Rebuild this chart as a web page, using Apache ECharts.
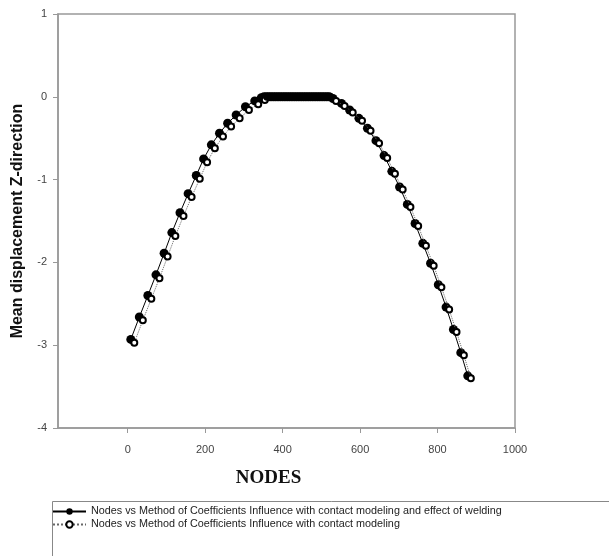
<!DOCTYPE html>
<html>
<head>
<meta charset="utf-8">
<script src="https://cdn.jsdelivr.net/npm/echarts@6/dist/echarts.min.js"></script>
<style>html,body{margin:0;padding:0;background:#fff}#c{width:609px;height:556px}</style>
</head>
<body>
<div id="c"></div>
<script>
// Series 1: with contact modeling and effect of welding (filled circles)
const nodesA = [8, 30, 52, 73, 94, 114, 135, 156, 177, 196, 216, 237, 258, 280, 304, 328, 345,
  352, 358, 364, 370, 376, 382, 388, 394, 400, 406, 412, 418, 424, 430, 436, 442, 448, 454, 460, 466, 472, 478, 484, 490, 496, 502, 508, 514, 520,
  530, 552, 573, 597, 619, 641, 662, 682, 702, 722, 742, 762, 782, 802, 822, 841, 860, 878];
const dispA = [-2.93, -2.66, -2.40, -2.15, -1.89, -1.64, -1.40, -1.17, -0.95, -0.75, -0.58, -0.44, -0.32, -0.22, -0.12, -0.05, -0.01,
  0, 0, 0, 0, 0, 0, 0, 0, 0, 0, 0, 0, 0, 0, 0, 0, 0, 0, 0, 0, 0, 0, 0, 0, 0, 0, 0, 0, 0,
  -0.02, -0.08, -0.16, -0.26, -0.38, -0.53, -0.71, -0.90, -1.09, -1.30, -1.53, -1.77, -2.01, -2.27, -2.54, -2.81, -3.09, -3.37];
// Series 2: with contact modeling (open circles)
const nodesB = [17, 39, 61, 82, 103, 123, 144, 165, 186, 205, 225, 246, 267, 289, 313, 337, 354,
  360, 366, 372, 378, 384, 390, 396, 402, 408, 414, 420, 426, 432, 438, 444, 450, 456, 462, 468, 474, 480, 486, 492, 498, 504, 510, 516, 522,
  538, 560, 581, 605, 627, 649, 670, 690, 710, 730, 750, 770, 790, 810, 830, 849, 868, 886];
const dispB = [-2.97, -2.70, -2.44, -2.19, -1.93, -1.68, -1.44, -1.21, -0.99, -0.79, -0.62, -0.48, -0.36, -0.26, -0.16, -0.09, -0.04,
  0, 0, 0, 0, 0, 0, 0, 0, 0, 0, 0, 0, 0, 0, 0, 0, 0, 0, 0, 0, 0, 0, 0, 0, 0, 0, 0, 0,
  -0.05, -0.11, -0.19, -0.29, -0.41, -0.56, -0.74, -0.93, -1.12, -1.33, -1.56, -1.80, -2.04, -2.30, -2.57, -2.84, -3.12, -3.40];
const xTicks = [0, 200, 400, 600, 800, 1000];
const nameA = 'Nodes vs Method of Coefficients Influence with contact modeling and effect of welding';
const nameB = 'Nodes vs Method of Coefficients Influence with contact modeling';

const chart = echarts.init(document.getElementById('c'), null, {renderer: 'canvas'});
const dataA = nodesA.map((x, i) => [x, dispA[i]]);
const dataB = nodesB.map((x, i) => {
  const p = {value: [x, dispB[i]]};
  if (dispB[i] === 0) p.itemStyle = {color: '#000'};
  return p;
});
const labelFont = {fontFamily: 'Liberation Sans, Arial, sans-serif', fontSize: 11, color: '#444'};
chart.setOption({
  animation: false,
  backgroundColor: '#fff',
  grid: {left: 58, right: 94, top: 14, bottom: 128, show: true, borderColor: '#999', borderWidth: 1.5},
  xAxis: {
    type: 'value', min: -180, max: 1000,
    name: 'NODES', nameLocation: 'middle', nameGap: 41,
    nameTextStyle: {fontFamily: 'Liberation Serif, Times New Roman, serif', fontWeight: 'bold', fontSize: 19, color: '#111', padding: [0, 36, 0, 0]},
    axisLine: {onZero: false, lineStyle: {color: '#999', width: 1.5}},
    axisTick: {customValues: xTicks, length: 5, lineStyle: {color: '#999'}},
    axisLabel: Object.assign({customValues: xTicks, margin: 16, formatter: v => String(v)}, labelFont),
    splitLine: {show: false}
  },
  yAxis: {
    type: 'value', min: -4, max: 1, interval: 1,
    name: 'Mean displacement Z-direction', nameLocation: 'middle', nameGap: 32,
    nameTextStyle: {fontFamily: 'Liberation Sans, Arial, sans-serif', fontWeight: 'bold', fontSize: 16, color: '#111'},
    axisLine: {show: true, onZero: false, lineStyle: {color: '#999', width: 1.5}},
    axisTick: {show: true, length: 5, lineStyle: {color: '#999'}},
    axisLabel: Object.assign({margin: 11}, labelFont),
    splitLine: {show: false}
  },
  legend: {
    orient: 'vertical', left: 52, top: 506, padding: 0, itemGap: 2,
    itemWidth: 33, itemHeight: 8,
    textStyle: {fontFamily: 'Liberation Sans, Arial, sans-serif', fontSize: 10.8, color: '#222', lineHeight: 11},
    data: [nameA, nameB]
  },
  graphic: [{
    type: 'rect', left: 50, top: 499, shape: {width: 580, height: 80},
    style: {fill: 'none', stroke: '#888', lineWidth: 1}, silent: true
  }],
  series: [
    {name: nameA, type: 'line', data: dataA, symbol: 'circle', symbolSize: 9,
      itemStyle: {color: '#000'}, lineStyle: {color: '#000', width: 1}, z: 2},
    {name: nameB, type: 'line', data: dataB, symbol: 'circle', symbolSize: 6,
      itemStyle: {color: '#fff', borderColor: '#000', borderWidth: 2},
      lineStyle: {color: '#666', width: 1, type: 'dotted'}, z: 3}
  ]
});
</script>
</body>
</html>
